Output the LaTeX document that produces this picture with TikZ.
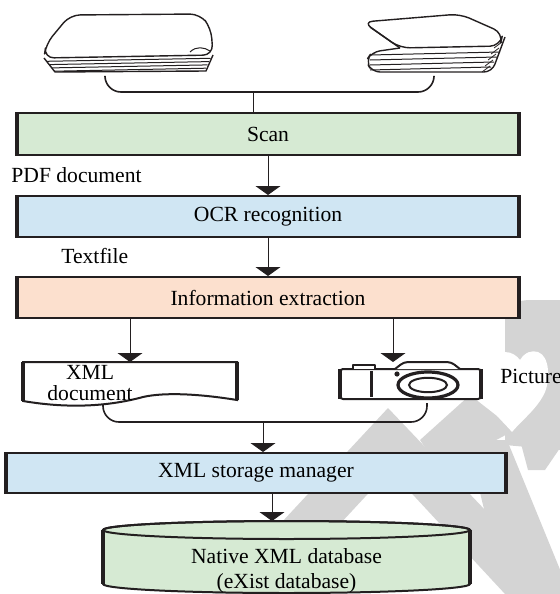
\documentclass[tikz,border=0pt]{standalone}
\usepackage{fontspec}
\setmainfont{Liberation Serif}
\usetikzlibrary{arrows.meta}

\definecolor{scangreen}{RGB}{214,234,211}
\definecolor{ocrblue}{RGB}{208,230,243}
\definecolor{extpeach}{RGB}{252,224,206}
\definecolor{edge}{RGB}{35,31,32}
\definecolor{wmgray}{RGB}{212,212,212}

\tikzset{
  stage/.style={draw=edge, line width=1pt, inner sep=0pt, font=\fontsize{10.8}{13}\selectfont},
  flow/.style={-{Triangle[width=12.5pt,length=4.5pt]}, line width=0.5pt, draw=edge},
  sidebar/.style={line width=2pt, draw=edge},
  lbl/.style={font=\fontsize{10.8}{13}\selectfont, inner sep=0pt},
  sketch/.style={line width=0.7pt, draw=edge, line join=round},
  bracket/.style={line width=0.8pt, draw=edge, rounded corners=8pt},
}

\begin{document}
\begin{tikzpicture}[x=0.5pt,y=-0.5pt]
\useasboundingbox (0,0) rectangle (560,594);

% faint logo in the background
\fill[wmgray] (388,408) -- (565,594) -- (505,594) -- (390,470) -- (275,594) -- (215,594) -- cycle;
\fill[wmgray] (467,440) -- (507,440) -- (570,594) -- (505,594) -- cycle;
\fill[wmgray] (520,440) -- (560,440) -- (560,448) -- (545,470) -- (528,470) -- cycle;
\fill[wmgray] (470,395) -- (515,430) -- (440,470) -- (420,440) -- cycle;
\fill[wmgray] (505,445) -- (505,320) .. controls (505,305) and (515,300) .. (532,300) -- (560,300) -- (560,450) -- cycle;
\fill[white] (512,432) .. controls (500,418) and (482,405) .. (482,380) .. controls (482,360) and (495,352) .. (505,352)
  .. controls (512,352) and (517,356) .. (520,360) .. controls (525,352) and (532,350) .. (538,352)
  .. controls (550,356) and (550,380) .. (545,392) .. controls (538,408) and (522,420) .. (512,432) -- cycle;

% paper stacks
\draw[sketch, fill=white, rounded corners=5pt] (70,15) -- (200,14) -- (211,28) -- (213,55) -- (44,58) -- (46,44) -- cycle;
\draw[sketch] (213,55) -- (206,71) -- (55,72) -- (44,58);
\foreach \k in {1,...,4}
  \draw[sketch, line width=0.5pt] (44+2.5*\k,58+3.3*\k) -- (212-1.5*\k,55+3.3*\k);
\draw[sketch, line width=0.5pt] (190,52) .. controls (196,46) and (204,47) .. (210,51);
\draw[sketch, fill=white, rounded corners=5pt] (363,22) -- (460,14) -- (503,33) -- (500,46) -- (400,48) -- cycle;
\draw[sketch] (370,27) -- (400,48);
\draw[sketch, rounded corners=4pt] (400,48) -- (372,52) -- (366,61) -- (372,72) -- (492,72) -- (505,37);
\foreach \k in {0,...,3}
  \draw[sketch, line width=0.5pt] (370,55+5*\k) -- (500-3*\k,52+5*\k);
\foreach \k in {0,...,4}
  \draw[sketch, line width=0.4pt] (502-3*\k,42+6*\k) -- (494-3*\k,48+6*\k);

% pipeline stages
\node[stage, fill=scangreen, minimum width=250pt, minimum height=21pt] (scan) at (268,134) {Scan};
\node[stage, fill=ocrblue, minimum width=250pt, minimum height=20.5pt] (ocr) at (268,216.5) {OCR recognition};
\node[stage, fill=extpeach, minimum width=250pt, minimum height=20.5pt] (info) at (268,297.5) {Information extraction};
\node[stage, fill=ocrblue, minimum width=249pt, minimum height=20pt] (store) at (256,473) {XML storage manager};
\foreach \n in {scan,ocr,info,store}
  \draw[sidebar] (\n.north west) -- (\n.south west) (\n.north east) -- (\n.south east);

\node[lbl, anchor=west] (pdf) at (11,175) {PDF document};
\node[lbl, anchor=west] (txt) at (61,256) {Textfile};

% scanned stacks feed the scanner
\coordinate (bookL) at (105,77);
\coordinate (bookR) at (434,77);
\coordinate (join1) at (253,92);
\draw[bracket] (bookL) |- (join1) -| (bookR);
\draw[line width=0.5pt, draw=edge] (join1) -- (scan.north -| join1);

\draw[flow] (scan) -- (ocr);
\draw[flow] (ocr) -- (info);

% XML document
\draw[edge, line width=1pt, fill=white] (23,362) -- (237,362) -- (237,400)
  .. controls (200,394) and (165,392) .. (143,397) .. controls (110,406) and (70,409) .. (23,401) -- cycle;
\draw[sidebar] (23,362) -- (23,401) (237,362) -- (237,400);
\node[lbl, align=center, font=\fontsize{10.8}{10.5}\selectfont] (xmldoc) at (90,383) {XML\\document};
\coordinate (doctop) at (130,362);
\coordinate (docbot) at (103,404);

% camera
\draw[sketch, line width=1pt, fill=white, rounded corners=1.5pt] (340,369) rectangle (481,399);
\draw[sketch, line width=1pt, fill=white, rounded corners=2pt] (395,369) -- (404,362) -- (451,362) -- (460,369);
\draw[sketch, line width=1pt, fill=white] (353,369) -- (353,365) -- (375,365) -- (375,369);
\draw[sidebar] (340,369) -- (340,399) (481,369) -- (481,399);
\draw[sidebar, line width=1.5pt] (371,371) -- (371,397);
\fill[edge] (397,374) circle (1.3pt);
\draw[edge, line width=1.6pt] (428,385) ellipse [x radius=15pt, y radius=6.5pt];
\draw[edge, line width=1pt] (428,385) ellipse [x radius=9.5pt, y radius=3.6pt];
\coordinate (camtop) at (393,362);
\coordinate (cambot) at (427,403);
\node[lbl, anchor=west] (pic) at (500,376) {Picture};

\draw[flow] (info.south -| doctop) -- (doctop);
\draw[flow] (info.south -| camtop) -- (camtop);

% both results go to the storage manager
\coordinate (join2) at (263,422);
\draw[bracket] (docbot) |- (join2) -| (cambot);
\draw[flow] (join2) -- (store.north -| join2);

% database
\draw[edge, line width=1pt, fill=scangreen] (103,530) -- (103,584)
  arc[start angle=180, end angle=360, x radius=91.75pt, y radius=4.5pt] -- (470,530)
  arc[start angle=0, end angle=180, x radius=91.75pt, y radius=4.5pt] -- cycle;
\draw[edge, line width=1pt] (286.5,530) ellipse [x radius=91.75pt, y radius=4.5pt];
\draw[sidebar] (103,530) -- (103,584) (470,530) -- (470,584);
\node[lbl, align=center, font=\fontsize{10.8}{12.5}\selectfont] (db) at (286.5,571) {Native XML database\\(eXist database)};
\coordinate (dbtop) at (272,521);
\draw[flow] (store.south -| dbtop) -- (dbtop);
\end{tikzpicture}
\end{document}
